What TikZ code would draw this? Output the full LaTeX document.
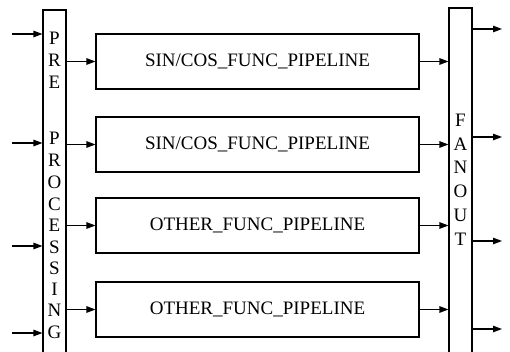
\documentclass[tikz,border=0pt]{standalone}
\usepackage{fontspec}
\setmainfont{Liberation Serif}
\usetikzlibrary{arrows.meta}
\begin{document}
\begin{tikzpicture}[x=1pt,y=-1pt,
  line width=1.1pt,
  arr/.style={-{Triangle[length=9pt,width=6.5pt]}},
  col/.style={draw, minimum width=23pt, inner sep=0pt},
  pipe/.style={draw, minimum width=323pt, minimum height=55pt, inner sep=0pt, font=\fontsize{19}{22}\selectfont},
  letter/.style={inner sep=0pt, font=\fontsize{19}{22}\selectfont}]
\useasboundingbox (0,0) rectangle (510,352);
\node[col, minimum height=356pt] (pre) at (54.5,188) {};
\node[col, minimum height=356pt] (fan) at (460.5,186) {};
\foreach \l/\y [count=\i] in {P/38,R/60,E/82,P/138,R/160,O/182,C/204,E/225,S/247,S/268,I/289,N/310,G/332}
  \node[letter] (pl\i) at (54.5,\y) {\l};
\foreach \l/\y [count=\i] in {F/120,A/144,N/167,O/191,U/215,T/239}
  \node[letter] (fl\i) at (460.5,\y) {\l};
\node[pipe] (b1) at (257.5,61.5) {SIN/COS\_FUNC\_PIPELINE};
\node[pipe] (b2) at (257.5,144.5) {SIN/COS\_FUNC\_PIPELINE};
\node[pipe] (b3) at (257.5,225.5) {OTHER\_FUNC\_PIPELINE};
\node[pipe] (b4) at (257.5,309.5) {OTHER\_FUNC\_PIPELINE};
\foreach \i in {1,2,3,4} {
  \draw[arr] (pre.east |- b\i.west) -- (b\i.west);
  \draw[arr] (b\i.east) -- (b\i.east -| fan.west);
}
\foreach \y [count=\i] in {34,143,246,333} {
  \coordinate (in\i) at (12,\y);
  \draw[arr] (in\i) -- (in\i -| pre.west);
}
\foreach \y [count=\i] in {29,137,241,329} {
  \coordinate (out\i) at (502,\y);
  \draw[arr] (fan.east |- out\i) -- (out\i);
}
\end{tikzpicture}
\end{document}
